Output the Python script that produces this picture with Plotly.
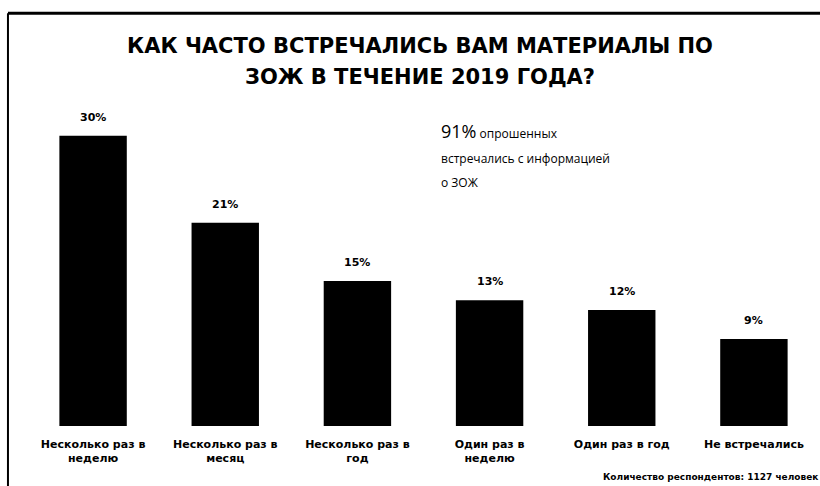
import plotly.graph_objects as go

# Survey answers: how often respondents met healthy-lifestyle (ЗОЖ) materials in 2019
categories = [
    "Несколько раз в<br>неделю",
    "Несколько раз в<br>месяц",
    "Несколько раз в<br>год",
    "Один раз в<br>неделю",
    "Один раз в год",
    "Не встречались",
]
shares = [30, 21, 15, 13, 12, 9]
value_labels = [f"{v}%" for v in shares]

title_lines = [
    "КАК ЧАСТО ВСТРЕЧАЛИСЬ ВАМ МАТЕРИАЛЫ ПО",
    "ЗОЖ В ТЕЧЕНИЕ 2019 ГОДА?",
]
callout_lines = [
    "<span style='font-size:18px'>91%</span> опрошенных",
    "встречались с информацией",
    "о ЗОЖ",
]
note_text = "Количество респондентов: 1127 человек"

fig = go.Figure(
    go.Bar(
        x=categories,
        y=shares,
        marker=dict(color="black", line=dict(width=0)),
        hoverinfo="skip",
    )
)

annotations = [
    dict(text=line, xref="paper", yref="paper", x=0.495, y=y,
         showarrow=False, xanchor="center", yanchor="middle",
         font=dict(family="DejaVu Sans", size=21, color="black", weight="bold"))
    for line, y in zip(title_lines, [1.165, 1.07])
]

# value labels above each bar
annotations += [
    dict(x=c, y=v, xref="x", yref="y", text=t, showarrow=False,
         yanchor="bottom", yshift=10,
         font=dict(family="DejaVu Sans", size=11, color="black", weight="bold"))
    for c, v, t in zip(categories, shares, value_labels)
]

# callout text
annotations += [
    dict(text=line, xref="paper", yref="paper", x=0.52, y=y,
         showarrow=False, xanchor="left", yanchor="middle", align="left",
         font=dict(family="Open Sans", size=12, color="black"))
    for line, y in zip(callout_lines, [0.905, 0.82, 0.746])
]

annotations.append(
    dict(text=note_text, xref="paper", yref="paper", x=1.0, y=-0.155,
         showarrow=False, xanchor="right", yanchor="middle",
         font=dict(family="DejaVu Sans", size=9, color="black", weight="bold"))
)

fig.update_layout(
    width=820,
    height=486,
    margin=dict(l=27, r=0, t=100, b=60),
    paper_bgcolor="white",
    plot_bgcolor="white",
    showlegend=False,
    bargap=0.49,
    xaxis=dict(
        showgrid=False, showline=False, zeroline=False, ticks="",
        ticklabelstandoff=10,
        tickfont=dict(family="DejaVu Sans", size=11, color="black", weight="bold"),
    ),
    yaxis=dict(visible=False, range=[0, 33.7]),
    shapes=[
        # frame: top and left border lines
        dict(type="line", xref="paper", yref="paper", x0=-0.024, x1=1.0,
             y0=1.266, y1=1.266, line=dict(color="black", width=3)),
        dict(type="line", xref="paper", yref="paper", x0=-0.024, x1=-0.024,
             y0=1.266, y1=-0.2, line=dict(color="black", width=2)),
    ],
    annotations=annotations,
)

fig.write_html("out.html")
